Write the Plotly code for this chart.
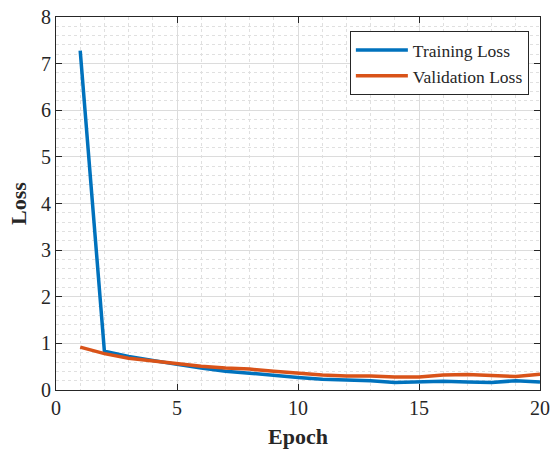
import plotly.graph_objects as go

epochs = list(range(1, 21))
training_loss = [7.28, 0.83, 0.72, 0.63, 0.55, 0.47, 0.40, 0.36, 0.31, 0.27,
                 0.23, 0.21, 0.20, 0.16, 0.17, 0.19, 0.17, 0.16, 0.20, 0.17]
validation_loss = [0.92, 0.78, 0.68, 0.62, 0.56, 0.51, 0.47, 0.45, 0.40, 0.36,
                   0.32, 0.30, 0.30, 0.28, 0.28, 0.32, 0.33, 0.31, 0.29, 0.34]

font_family = "Liberation Serif"

fig = go.Figure()
fig.add_trace(go.Scatter(x=epochs, y=training_loss, mode="lines", name="Training Loss",
                         line=dict(color="#0072BD", width=3.5)))
fig.add_trace(go.Scatter(x=epochs, y=validation_loss, mode="lines", name="Validation Loss",
                         line=dict(color="#D95319", width=3.5)))

axis_common = dict(
    showline=True, linecolor="#262626", linewidth=1, mirror="ticks",
    ticks="inside", ticklen=6, tickcolor="#262626",
    showgrid=True, gridcolor="#DCDCDC", gridwidth=1,
    zeroline=False, automargin=False,
    tickfont=dict(family=font_family, size=20, color="#262626"),
)

fig.update_xaxes(
    range=[0, 20], dtick=5, tick0=0,
    title=dict(text="<b>Epoch</b>", font=dict(family=font_family, size=22, color="#262626"), standoff=16),
    minor=dict(dtick=1, showgrid=True, gridcolor="#E0E0E0", griddash="dot", ticks=""),
    **axis_common,
)
fig.update_yaxes(
    range=[0, 8], dtick=1, tick0=0,
    title=dict(text="<b>Loss</b>", font=dict(family=font_family, size=22, color="#262626"), standoff=8),
    minor=dict(dtick=0.2, showgrid=True, gridcolor="#E0E0E0", griddash="dot", ticks=""),
    **axis_common,
)

fig.update_layout(
    width=550, height=449,
    margin=dict(l=56, r=10, t=17, b=59),
    plot_bgcolor="white", paper_bgcolor="white",
    font=dict(family=font_family, color="#262626"),
    legend=dict(
        x=0.977, y=0.962, xanchor="right", yanchor="top",
        bgcolor="white", bordercolor="#262626", borderwidth=1,
        font=dict(family=font_family, size=17.5, color="#262626"),
        tracegroupgap=0, itemwidth=52,
    ),
)

fig.write_html("out.html")
